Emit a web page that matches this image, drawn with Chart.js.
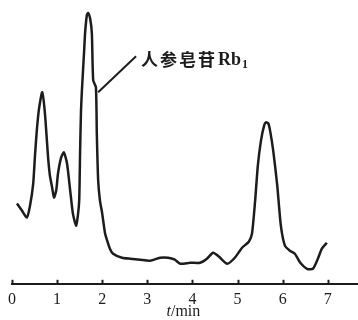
<!DOCTYPE html>
<html>
<head>
<meta charset="utf-8">
<script src="https://cdn.jsdelivr.net/npm/chart.js"></script>
<style>
  html, body { margin: 0; padding: 0; background: #fff; }
  #wrap { width: 358px; height: 320px; position: relative; }
</style>
</head>
<body>
<div id="wrap"><canvas id="chart"></canvas></div>
<script>
// retention time (min) and detector response
const times = [0.11, 0.22, 0.33, 0.40, 0.47, 0.51, 0.55, 0.60, 0.67, 0.73, 0.80, 0.84, 0.89, 0.93, 0.98,
  1.02, 1.09, 1.15, 1.22, 1.29, 1.35, 1.42, 1.46, 1.49, 1.51, 1.53, 1.55, 1.60, 1.62, 1.66, 1.69,
  1.73, 1.77, 1.80, 1.86, 1.88, 1.91, 1.95, 2.00, 2.06, 2.11, 2.17, 2.24, 2.44,
  2.62, 2.84, 3.06, 3.28, 3.46, 3.61, 3.73, 3.95, 4.17, 4.32, 4.46, 4.59, 4.77, 4.94,
  5.10, 5.25, 5.32, 5.39, 5.45, 5.52, 5.59, 5.63, 5.68, 5.72, 5.79, 5.88, 5.96,
  6.05, 6.16, 6.27, 6.39, 6.54, 6.67, 6.78, 6.87, 6.98];
const signal = [80, 73, 66, 78, 100, 128, 153, 175, 191, 170, 126, 108, 96, 86, 93,
  110, 126, 131, 120, 93, 70, 58, 68, 83, 133, 173, 193, 233, 250, 268, 270,
  265, 250, 203, 196, 150, 103, 83, 70, 51, 43, 35, 30, 26,
  25, 24, 23, 26, 26, 24, 20, 21, 21, 25, 31, 27, 20, 26,
  36, 42, 50, 83, 118, 143, 158, 161, 160, 153, 133, 98, 58,
  38, 33, 30, 21, 15, 15, 25, 35, 41];
const tickValues = [0, 1, 2, 3, 4, 5, 6, 7];
const peakName = "人参皂苷";
const peakSuffix = "Rb";
const peakSub = "1";
const xTitleItalic = "t";
const xTitleRest = "/min";

const ink = "#1c1c1c";

const extras = {
  id: "extras",
  afterDraw(chart) {
    const ctx = chart.ctx;
    const xs = chart.scales.x, ys = chart.scales.y;
    const axisY = chart.chartArea.bottom;
    ctx.save();
    // small upward tick marks
    ctx.strokeStyle = ink;
    ctx.lineWidth = 2;
    tickValues.forEach(v => {
      const px = Math.round(xs.getPixelForValue(v)) + 0.5;
      ctx.beginPath();
      ctx.moveTo(px, axisY - 4);
      ctx.lineTo(px, axisY);
      ctx.stroke();
    });
    // axis title t/min
    ctx.fillStyle = ink;
    ctx.textBaseline = "middle";
    ctx.font = "italic 16px 'Liberation Serif'";
    const w1 = ctx.measureText(xTitleItalic).width;
    ctx.font = "16px 'Liberation Serif'";
    const w2 = ctx.measureText(xTitleRest).width;
    const cx = xs.getPixelForValue(3.8);
    let tx = cx - (w1 + w2) / 2;
    ctx.font = "italic 16px 'Liberation Serif'";
    ctx.fillText(xTitleItalic, tx, 312);
    ctx.font = "16px 'Liberation Serif'";
    ctx.fillText(xTitleRest, tx + w1, 312);
    // annotation pointer
    ctx.lineWidth = 2;
    ctx.beginPath();
    ctx.moveTo(xs.getPixelForValue(1.91), ys.getPixelForValue(191));
    ctx.lineTo(xs.getPixelForValue(2.75), ys.getPixelForValue(227));
    ctx.stroke();
    // annotation label
    let lx = xs.getPixelForValue(2.86);
    const ly = ys.getPixelForValue(224);
    ctx.font = "bold 17px 'Noto Sans CJK SC'";
    ctx.letterSpacing = "2px";
    ctx.fillText(peakName, lx, ly);
    lx += ctx.measureText(peakName).width + 1;
    ctx.letterSpacing = "0px";
    ctx.font = "bold 18px 'Liberation Serif'";
    ctx.fillText(peakSuffix, lx, ly + 1);
    lx += ctx.measureText(peakSuffix).width + 1;
    ctx.font = "bold 12px 'Liberation Serif'";
    ctx.fillText(peakSub, lx, ly + 6);
    ctx.restore();
  }
};

new Chart(document.getElementById("chart"), {
  type: "line",
  data: {
    datasets: [{
      data: times.map((t, i) => ({ x: t, y: signal[i] })),
      borderColor: ink,
      borderWidth: 2.5,
      pointRadius: 0,
      tension: 0.2,
      fill: false
    }]
  },
  options: {
    responsive: true,
    maintainAspectRatio: false,
    animation: false,
    layout: { padding: { left: 12, right: 0, top: 0, bottom: 5 } },
    plugins: { legend: { display: false }, tooltip: { enabled: false } },
    scales: {
      x: {
        type: "linear",
        min: 0,
        max: 7.67,
        afterBuildTicks: s => { s.ticks = tickValues.map(v => ({ value: v })); },
        grid: { display: false, drawTicks: false },
        border: { display: true, color: ink, width: 2 },
        ticks: {
          color: ink,
          padding: 6,
          maxRotation: 0,
          autoSkip: false,
          font: { family: "'Liberation Serif'", size: 16 }
        }
      },
      y: {
        display: false,
        min: 0,
        max: 283
      }
    }
  },
  plugins: [extras]
});
</script>
</body>
</html>
